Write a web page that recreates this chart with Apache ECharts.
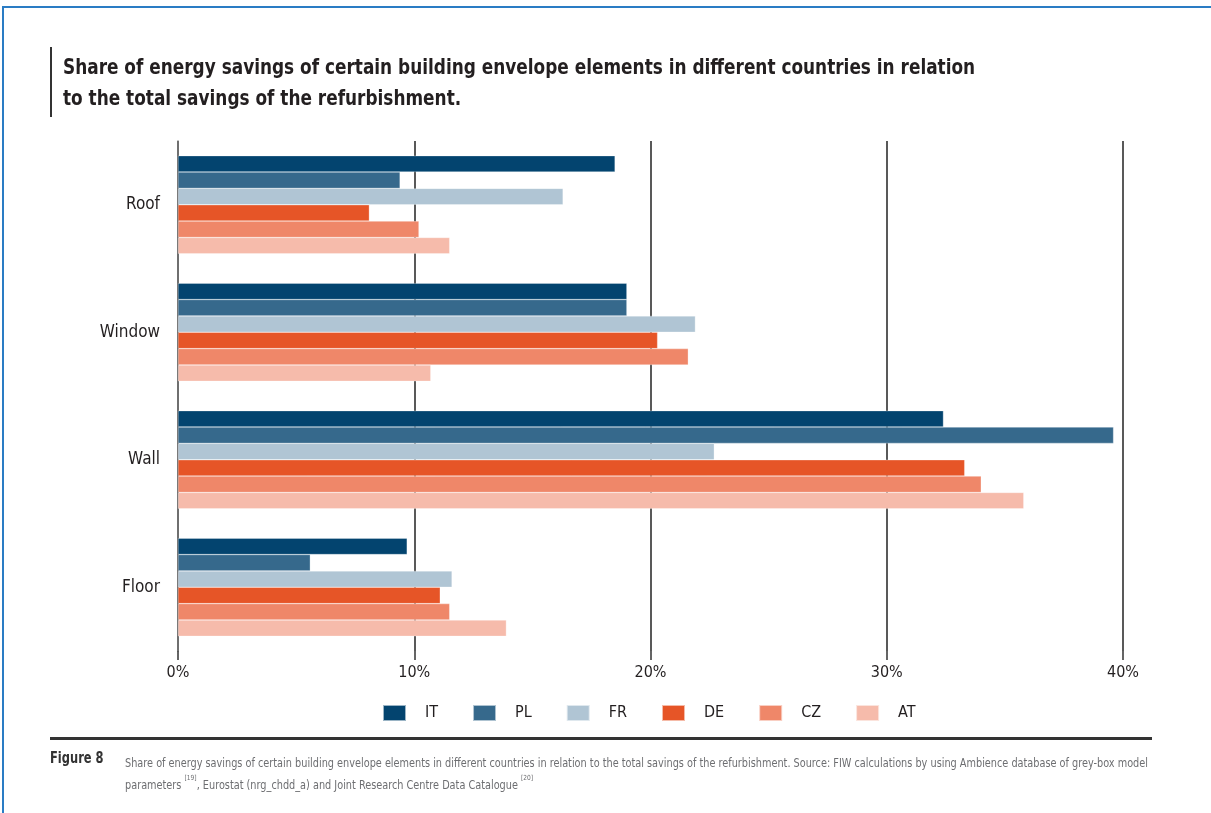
<!DOCTYPE html>
<html>
<head>
<meta charset="utf-8">
<script src="https://cdn.jsdelivr.net/npm/echarts@6/dist/echarts.min.js"></script>
<style>
  html, body { margin: 0; padding: 0; background: #fff; }
  #chart { width: 1211px; height: 813px; }
</style>
</head>
<body>
<div id="chart"></div>
<script>
// element categories (top to bottom)
const elements = ["Roof", "Window", "Wall", "Floor"];
const countries = ["IT", "PL", "FR", "DE", "CZ", "AT"];
const colors = ["#03446f", "#36698c", "#b0c5d4", "#e65527", "#ef8769", "#f6bbab"];

// share of savings in %, per country, order = elements
const IT = [18.5, 19.0, 32.4, 9.7];
const PL = [9.4, 19.0, 39.6, 5.6];
const FR = [16.3, 21.9, 22.7, 11.6];
const DE = [8.1, 20.3, 33.3, 11.1];
const CZ = [10.2, 21.6, 34.0, 11.5];
const AT = [11.5, 10.7, 35.8, 13.9];
const values = [IT, PL, FR, DE, CZ, AT];

const xTicks = [0, 10, 20, 30, 40];

const font = '"Liberation Sans Narrow", "DejaVu Sans Condensed", "Roboto Condensed", sans-serif';

const chart = echarts.init(document.getElementById("chart"));

const series = countries.map((c, i) => ({
  name: c,
  type: "bar",
  data: values[i],
  barGap: "0%",
  barCategoryGap: "23%",
  itemStyle: { color: colors[i], borderColor: "rgba(255,255,255,0.6)", borderWidth: 0.5 },
  z: 2
}));

const option = {
  animation: false,
  textStyle: { fontFamily: font },
  graphic: [
    // blue page frame
    { type: "rect", shape: { x: 3, y: 7, width: 1230, height: 830 },
      style: { fill: "none", stroke: "#2a7cc4", lineWidth: 2 }, silent: true },
    // title bar
    { type: "rect", shape: { x: 50, y: 47, width: 2, height: 70 },
      style: { fill: "#333" } },
    { type: "text", x: 63, y: 53, scaleX: 0.855,
      style: { text: "Share of energy savings of certain building envelope elements in different countries in relation\nto the total savings of the refurbishment.",
        font: 'bold 22px ' + font, fill: "#231f20", lineHeight: 31 } },
    // rule above caption
    { type: "rect", shape: { x: 50, y: 737, width: 1102, height: 3 },
      style: { fill: "#333" } },
    { type: "text", x: 50, y: 752, scaleX: 0.85,
      style: { text: "Figure 8", font: 'bold 15px ' + font, fill: "#333" } },
    { type: "text", x: 125, y: 753, scaleX: 0.94,
      style: {
        text: "Share of energy savings of certain building envelope elements in different countries in relation to the total savings of the refurbishment. Source: FIW calculations by using Ambience database of grey-box model\nparameters {s|[19]}, Eurostat (nrg_chdd_a) and Joint Research Centre Data Catalogue {s|[20]}",
        font: '11.5px ' + font, fill: "#6d6e71", lineHeight: 22,
        rich: { s: { fontSize: 7, verticalAlign: "top", fill: "#6d6e71", fontFamily: font, padding: [0, 0, 6, 0] } }
      } }
  ],
  legend: {
    data: countries,
    bottom: 86,
    left: 377,
    itemWidth: 23,
    itemHeight: 16,
    itemGap: 34,
    icon: "rect",
    textStyle: { fontSize: 16, color: "#231f20", fontFamily: font, padding: [0, 0, 0, 14] }
  },
  grid: { left: 178, right: 88, top: 141, bottom: 162 },
  xAxis: {
    type: "value",
    min: 0,
    max: 40,
    interval: 10,
    axisLine: { show: false },
    axisTick: { show: true, length: 9, lineStyle: { color: "#333", width: 1.5 } },
    axisLabel: {
      formatter: v => (xTicks.includes(v) ? v + "%" : ""),
      fontSize: 16, color: "#231f20", margin: 14, fontFamily: font
    },
    splitLine: { show: true, lineStyle: { color: "#222", width: 1.5 } }
  },
  yAxis: {
    type: "category",
    data: elements,
    inverse: true,
    axisLine: { show: true, lineStyle: { color: "#777", width: 1.5 } },
    axisTick: { show: false },
    axisLabel: { fontSize: 17, color: "#231f20", margin: 18, fontFamily: font }
  },
  series: series
};

chart.setOption(option);
</script>
</body>
</html>
